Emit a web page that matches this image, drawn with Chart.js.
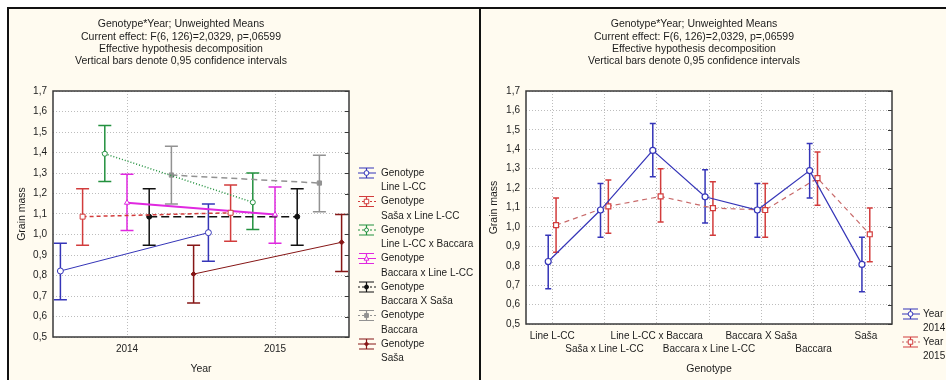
<!DOCTYPE html>
<html>
<head>
<meta charset="utf-8">
<script src="https://cdn.jsdelivr.net/npm/chart.js"></script>
<style>
  body { margin: 0; background: #fff; width: 946px; height: 380px; overflow: hidden; position: relative; }
  #frame { position: absolute; left: 7px; top: 7px; width: 939px; height: 373px; background: #fffbf0;
           border-left: 2px solid #111; border-top: 2px solid #111; box-sizing: border-box; }
  #divider { position: absolute; left: 479px; top: 7px; width: 2px; height: 373px; background: #111; }
  canvas { position: absolute; top: 9px; }
  #leftChart { left: 9px; }
  #rightChart { left: 481px; }
</style>
</head>
<body>
<div id="frame"></div>
<div id="divider"></div>
<canvas id="leftChart" width="470" height="371"></canvas>
<canvas id="rightChart" width="465" height="371"></canvas>
<script>
// data
const years = ['2014', '2015'];
const genotypes = ['Line L-CC', 'Saša x Line L-CC', 'Line L-CC x Baccara', 'Baccara x Line L-CC',
                   'Baccara X Saša', 'Baccara', 'Saša'];
const mean2014 = [0.822, 1.087, 1.394, 1.155, 1.087, 1.290, 0.807];
const low2014  = [0.682, 0.947, 1.258, 1.020, 0.947, 1.149, 0.666];
const high2014 = [0.957, 1.223, 1.532, 1.294, 1.223, 1.430, 0.947];
const mean2015 = [1.009, 1.106, 1.157, 1.097, 1.087, 1.251, 0.962];
const low2015  = [0.869, 0.967, 1.025, 0.957, 0.947, 1.111, 0.820];
const high2015 = [1.149, 1.241, 1.300, 1.232, 1.223, 1.386, 1.097];
const massTicks = [0.5, 0.6, 0.7, 0.8, 0.9, 1.0, 1.1, 1.2, 1.3, 1.4, 1.5, 1.6, 1.7];

const titleLines = ['Genotype*Year; Unweighted Means',
                    'Current effect: F(6, 126)=2,0329, p=,06599',
                    'Effective hypothesis decomposition',
                    'Vertical bars denote 0,95 confidence intervals'];

const FONT = '"Liberation Sans", Arial, sans-serif';
const TXT = '#1c1c1c';

// genotype styles (left chart)
const gStyles = [
  { color: '#3535b8', dash: [], width: 1, point: 'circle', r: 3, fill: '#fff' },
  { color: '#d23c3c', dash: [4, 3], width: 1.5, point: 'rect', r: 3.5, fill: '#fff' },
  { color: '#23913f', dash: [1, 2], width: 1.5, point: 'circle', r: 2.5, fill: '#fff' },
  { color: '#e028e0', dash: [], width: 2, point: 'triangle', r: 3, fill: '#fff' },
  { color: '#111111', dash: [8, 4], width: 1.5, point: 'circle', r: 2.5, fill: '#111' },
  { color: '#929292', dash: [6, 4], width: 1.5, point: 'rect', r: 3, fill: '#929292' },
  { color: '#861616', dash: [], width: 1, point: 'rectRot', r: 2.5, fill: '#861616' }
];

function drawMarker(ctx, style, r, x, y) {
  ctx.beginPath();
  if (style === 'rect') {
    ctx.rect(x - r * 0.8, y - r * 0.8, r * 1.6, r * 1.6);
  } else if (style === 'rectRot') {
    ctx.moveTo(x, y - r); ctx.lineTo(x + r, y); ctx.lineTo(x, y + r); ctx.lineTo(x - r, y); ctx.closePath();
  } else if (style === 'triangle') {
    ctx.moveTo(x, y - r); ctx.lineTo(x + r, y + r * 0.7); ctx.lineTo(x - r, y + r * 0.7); ctx.closePath();
  } else {
    ctx.arc(x, y, r, 0, Math.PI * 2);
  }
  ctx.fill(); ctx.stroke();
}

const plotBg = {
  id: 'plotBg',
  beforeDraw(chart) {
    const a = chart.chartArea, ctx = chart.ctx;
    ctx.save(); ctx.fillStyle = '#fff';
    ctx.fillRect(a.left, a.top, a.right - a.left, a.bottom - a.top);
    ctx.restore();
  },
  afterDraw(chart) {
    const a = chart.chartArea, ctx = chart.ctx, ys = chart.scales.y;
    ctx.save();
    ctx.strokeStyle = '#3a3a3a'; ctx.lineWidth = 1.5;
    ctx.strokeRect(a.left, a.top, a.right - a.left, a.bottom - a.top);
    ctx.lineWidth = 1;
    ys.ticks.forEach(t => {
      const y = Math.round(ys.getPixelForValue(t.value)) + 0.5;
      ctx.beginPath(); ctx.moveTo(a.right - 4, y); ctx.lineTo(a.right, y); ctx.stroke();
    });
    ctx.restore();
  }
};

const errorBars = {
  id: 'errorBars',
  beforeDatasetsDraw(chart) {
    const ctx = chart.ctx, xs = chart.scales.x, ys = chart.scales.y;
    chart.data.datasets.forEach(ds => {
      ctx.save();
      ctx.strokeStyle = ds.barColor; ctx.lineWidth = 1.5;
      ds.data.forEach((p, k) => {
        const x = xs.getPixelForValue(p.x);
        const y1 = ys.getPixelForValue(ds.lo[k]), y2 = ys.getPixelForValue(ds.hi[k]);
        ctx.beginPath();
        ctx.moveTo(x, y1); ctx.lineTo(x, y2);
        ctx.moveTo(x - ds.cap, y1); ctx.lineTo(x + ds.cap, y1);
        ctx.moveTo(x - ds.cap, y2); ctx.lineTo(x + ds.cap, y2);
        ctx.stroke();
      });
      ctx.restore();
    });
  }
};

const panelTitle = {
  id: 'panelTitle',
  afterDraw(chart, args, opts) {
    const ctx = chart.ctx;
    ctx.save();
    ctx.font = '10.5px ' + FONT; ctx.fillStyle = TXT;
    ctx.textAlign = 'center'; ctx.textBaseline = 'middle';
    titleLines.forEach((t, i) => ctx.fillText(t, opts.x, 15.5 + i * 12.2));
    ctx.restore();
  }
};

const sideLegend = {
  id: 'sideLegend',
  afterDraw(chart, args, opts) {
    const ctx = chart.ctx;
    chart.data.datasets.forEach((ds, i) => {
      const sx = opts.x, sy = opts.y + i * opts.step;
      ctx.save();
      ctx.strokeStyle = ds.barColor; ctx.lineWidth = 1.2;
      ctx.beginPath();
      ctx.moveTo(sx + 1, sy - 5); ctx.lineTo(sx + 16, sy - 5);
      ctx.moveTo(sx + 1, sy + 5); ctx.lineTo(sx + 16, sy + 5);
      ctx.moveTo(sx + 8.5, sy - 5); ctx.lineTo(sx + 8.5, sy + 5);
      ctx.stroke();
      ctx.strokeStyle = ds.borderColor; ctx.lineWidth = 1;
      ctx.setLineDash(ds.borderDash.length ? [2, 2] : []);
      ctx.beginPath(); ctx.moveTo(sx, sy); ctx.lineTo(sx + 18, sy); ctx.stroke();
      ctx.setLineDash([]);
      ctx.fillStyle = ds.pointBackgroundColor; ctx.strokeStyle = ds.pointBorderColor;
      drawMarker(ctx, ds.pointStyle, ds.pointRadius * 0.8, sx + 8.5, sy);
      ctx.font = '10px ' + FONT; ctx.fillStyle = TXT;
      ctx.textAlign = 'left'; ctx.textBaseline = 'middle';
      ds.label.split('\n').forEach((t, k) => ctx.fillText(t, opts.textX, sy + k * opts.line));
      ctx.restore();
    });
  }
};

function scalesFor(xOpts, yWidth, xHeight, xTitle) {
  return {
    x: Object.assign({
      type: 'linear',
      afterFit(s) { s.height = xHeight; },
      grid: { color: '#bdbdbd', drawTicks: false },
      border: { display: false, dash: [1, 2] },
      ticks: { padding: 5.5, maxRotation: 0, autoSkip: false, color: TXT,
               font: { family: FONT, size: 10, lineHeight: 1.3 } },
      title: { display: true, text: xTitle, color: TXT, padding: { top: 0, bottom: 5 },
               font: { family: FONT, size: 10.5, lineHeight: 1.2 } }
    }, xOpts),
    y: {
      min: 0.5, max: 1.7,
      afterBuildTicks(s) { s.ticks = massTicks.map(v => ({ value: v })); },
      afterFit(s) { s.width = yWidth; },
      grid: { color: '#bdbdbd', drawTicks: false },
      border: { display: false, dash: [1, 2] },
      ticks: { padding: 6, color: TXT, font: { family: FONT, size: 10 },
               callback: v => v.toFixed(1).replace('.', ',') },
      title: { display: true, text: 'Grain mass', color: TXT, padding: { top: 7, bottom: 0 },
               font: { family: FONT, size: 10.5, lineHeight: 1.2 } }
    }
  };
}

// left chart: genotype lines across years
const leftSets = genotypes.map((g, i) => {
  const st = gStyles[i];
  const off = (i - 3) * 0.15;
  return {
    label: 'Genotype\n' + g,
    data: years.map((y, k) => ({ x: k + off, y: k === 0 ? mean2014[i] : mean2015[i] })),
    lo: [low2014[i], low2015[i]],
    hi: [high2014[i], high2015[i]],
    cap: 6.5,
    barColor: st.color,
    borderColor: st.color, borderWidth: st.width, borderDash: st.dash,
    pointStyle: st.point, pointRadius: st.r, pointBackgroundColor: st.fill,
    pointBorderColor: st.color, pointBorderWidth: 1,
    fill: false, tension: 0
  };
});

new Chart(document.getElementById('leftChart'), {
  type: 'line',
  data: { datasets: leftSets },
  options: {
    responsive: false, animation: false,
    layout: { padding: { left: 0, right: 130, top: 82, bottom: 0 } },
    plugins: {
      legend: { display: false }, tooltip: { enabled: false },
      panelTitle: { x: 172 },
      sideLegend: { x: 349, textX: 372, y: 164, step: 28.5, line: 14.5 }
    },
    scales: scalesFor({
      min: -0.5, max: 1.5,
      afterBuildTicks(s) { s.ticks = years.map((y, k) => ({ value: k })); },
      ticks: { padding: 5.5, maxRotation: 0, autoSkip: false, color: TXT,
               font: { family: FONT, size: 10, lineHeight: 1.3 },
               callback: v => years[v] }
    }, 44, 43, 'Year')
  },
  plugins: [plotBg, errorBars, panelTitle, sideLegend]
});

// right chart: year lines across genotypes
const yearStyles = [
  { color: '#3535b8', bar: '#3535b8', dash: [], point: 'circle', r: 3, off: -0.075 },
  { color: '#c86a6a', bar: '#d23c3c', dash: [5, 4], point: 'rect', r: 3.5, off: 0.075 }
];
const yearMeans = [mean2014, mean2015], yearLows = [low2014, low2015], yearHighs = [high2014, high2015];

const rightSets = years.map((yr, k) => {
  const st = yearStyles[k];
  return {
    label: 'Year\n' + yr,
    data: genotypes.map((g, j) => ({ x: j + st.off, y: yearMeans[k][j] })),
    lo: yearLows[k], hi: yearHighs[k],
    cap: 3,
    barColor: st.bar,
    borderColor: st.color, borderWidth: 1.2, borderDash: st.dash,
    pointStyle: st.point, pointRadius: st.r, pointBackgroundColor: '#fff',
    pointBorderColor: st.bar, pointBorderWidth: 1.2,
    fill: false, tension: 0
  };
});

new Chart(document.getElementById('rightChart'), {
  type: 'line',
  data: { datasets: rightSets },
  options: {
    responsive: false, animation: false,
    layout: { padding: { left: 0, right: 54, top: 82, bottom: 0 } },
    plugins: {
      legend: { display: false }, tooltip: { enabled: false },
      panelTitle: { x: 213 },
      sideLegend: { x: 421, textX: 442, y: 305, step: 28, line: 14 }
    },
    scales: scalesFor({
      min: -0.5, max: 6.5,
      afterBuildTicks(s) { s.ticks = genotypes.map((g, j) => ({ value: j })); },
      ticks: { padding: 5.5, maxRotation: 0, autoSkip: false, color: TXT,
               font: { family: FONT, size: 10, lineHeight: 1.3 },
               callback: (v, idx) => idx % 2 === 0 ? [genotypes[v]] : ['', genotypes[v]] }
    }, 45, 56, 'Genotype')
  },
  plugins: [plotBg, errorBars, panelTitle, sideLegend]
});
</script>
</body>
</html>
